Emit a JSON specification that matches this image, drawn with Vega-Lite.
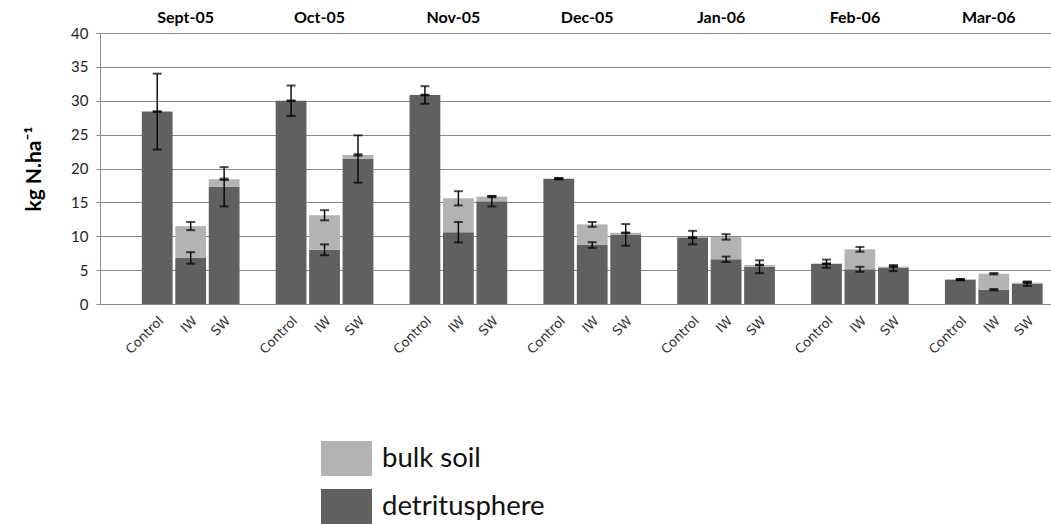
{
  "$schema": "https://vega.github.io/schema/vega-lite/v6.json",
  "width": 951,
  "height": 271,
  "autosize": {"type": "none"},
  "padding": {"left": 100, "top": 33, "right": 0, "bottom": 220},
  "data": {
    "values": [
      {"month": "Sept-05", "treatment": "Control", "bar": "Sept-05|Control", "fraction": "detritusphere", "value": 28.4, "err": 5.6},
      {"month": "Sept-05", "treatment": "Control", "bar": "Sept-05|Control", "fraction": "bulk soil", "value": 0, "err": 0.05},
      {"month": "Sept-05", "treatment": "IW", "bar": "Sept-05|IW", "fraction": "detritusphere", "value": 6.8, "err": 0.85},
      {"month": "Sept-05", "treatment": "IW", "bar": "Sept-05|IW", "fraction": "bulk soil", "value": 4.7, "err": 0.6},
      {"month": "Sept-05", "treatment": "SW", "bar": "Sept-05|SW", "fraction": "detritusphere", "value": 17.3, "err": 2.9},
      {"month": "Sept-05", "treatment": "SW", "bar": "Sept-05|SW", "fraction": "bulk soil", "value": 1.1, "err": 0.1},
      {"month": "Oct-05", "treatment": "Control", "bar": "Oct-05|Control", "fraction": "detritusphere", "value": 30.0, "err": 2.25},
      {"month": "Oct-05", "treatment": "Control", "bar": "Oct-05|Control", "fraction": "bulk soil", "value": 0, "err": 0.05},
      {"month": "Oct-05", "treatment": "IW", "bar": "Oct-05|IW", "fraction": "detritusphere", "value": 8.0, "err": 0.8},
      {"month": "Oct-05", "treatment": "IW", "bar": "Oct-05|IW", "fraction": "bulk soil", "value": 5.1, "err": 0.75},
      {"month": "Oct-05", "treatment": "SW", "bar": "Oct-05|SW", "fraction": "detritusphere", "value": 21.4, "err": 3.5},
      {"month": "Oct-05", "treatment": "SW", "bar": "Oct-05|SW", "fraction": "bulk soil", "value": 0.6, "err": 0.1},
      {"month": "Nov-05", "treatment": "Control", "bar": "Nov-05|Control", "fraction": "detritusphere", "value": 30.85, "err": 1.3},
      {"month": "Nov-05", "treatment": "Control", "bar": "Nov-05|Control", "fraction": "bulk soil", "value": 0, "err": 0.05},
      {"month": "Nov-05", "treatment": "IW", "bar": "Nov-05|IW", "fraction": "detritusphere", "value": 10.6, "err": 1.5},
      {"month": "Nov-05", "treatment": "IW", "bar": "Nov-05|IW", "fraction": "bulk soil", "value": 5.0, "err": 1.05},
      {"month": "Nov-05", "treatment": "SW", "bar": "Nov-05|SW", "fraction": "detritusphere", "value": 15.15, "err": 0.75},
      {"month": "Nov-05", "treatment": "SW", "bar": "Nov-05|SW", "fraction": "bulk soil", "value": 0.7, "err": 0.1},
      {"month": "Dec-05", "treatment": "Control", "bar": "Dec-05|Control", "fraction": "detritusphere", "value": 18.5, "err": 0.1},
      {"month": "Dec-05", "treatment": "Control", "bar": "Dec-05|Control", "fraction": "bulk soil", "value": 0, "err": 0.05},
      {"month": "Dec-05", "treatment": "IW", "bar": "Dec-05|IW", "fraction": "detritusphere", "value": 8.7, "err": 0.42},
      {"month": "Dec-05", "treatment": "IW", "bar": "Dec-05|IW", "fraction": "bulk soil", "value": 3.05, "err": 0.35},
      {"month": "Dec-05", "treatment": "SW", "bar": "Dec-05|SW", "fraction": "detritusphere", "value": 10.2, "err": 1.6},
      {"month": "Dec-05", "treatment": "SW", "bar": "Dec-05|SW", "fraction": "bulk soil", "value": 0.3, "err": 0.05},
      {"month": "Jan-06", "treatment": "Control", "bar": "Jan-06|Control", "fraction": "detritusphere", "value": 9.8, "err": 1.0},
      {"month": "Jan-06", "treatment": "Control", "bar": "Jan-06|Control", "fraction": "bulk soil", "value": 0, "err": 0.05},
      {"month": "Jan-06", "treatment": "IW", "bar": "Jan-06|IW", "fraction": "detritusphere", "value": 6.6, "err": 0.4},
      {"month": "Jan-06", "treatment": "IW", "bar": "Jan-06|IW", "fraction": "bulk soil", "value": 3.3, "err": 0.4},
      {"month": "Jan-06", "treatment": "SW", "bar": "Jan-06|SW", "fraction": "detritusphere", "value": 5.5, "err": 0.95},
      {"month": "Jan-06", "treatment": "SW", "bar": "Jan-06|SW", "fraction": "bulk soil", "value": 0.25, "err": 0.05},
      {"month": "Feb-06", "treatment": "Control", "bar": "Feb-06|Control", "fraction": "detritusphere", "value": 5.95, "err": 0.6},
      {"month": "Feb-06", "treatment": "Control", "bar": "Feb-06|Control", "fraction": "bulk soil", "value": 0, "err": 0.05},
      {"month": "Feb-06", "treatment": "IW", "bar": "Feb-06|IW", "fraction": "detritusphere", "value": 5.12, "err": 0.37},
      {"month": "Feb-06", "treatment": "IW", "bar": "Feb-06|IW", "fraction": "bulk soil", "value": 2.95, "err": 0.35},
      {"month": "Feb-06", "treatment": "SW", "bar": "Feb-06|SW", "fraction": "detritusphere", "value": 5.3, "err": 0.45},
      {"month": "Feb-06", "treatment": "SW", "bar": "Feb-06|SW", "fraction": "bulk soil", "value": 0.2, "err": 0.05},
      {"month": "Mar-06", "treatment": "Control", "bar": "Mar-06|Control", "fraction": "detritusphere", "value": 3.6, "err": 0.1},
      {"month": "Mar-06", "treatment": "Control", "bar": "Mar-06|Control", "fraction": "bulk soil", "value": 0, "err": 0.05},
      {"month": "Mar-06", "treatment": "IW", "bar": "Mar-06|IW", "fraction": "detritusphere", "value": 2.12, "err": 0.1},
      {"month": "Mar-06", "treatment": "IW", "bar": "Mar-06|IW", "fraction": "bulk soil", "value": 2.35, "err": 0.1},
      {"month": "Mar-06", "treatment": "SW", "bar": "Mar-06|SW", "fraction": "detritusphere", "value": 3.0, "err": 0.33},
      {"month": "Mar-06", "treatment": "SW", "bar": "Mar-06|SW", "fraction": "bulk soil", "value": 0.15, "err": 0.05}
    ]
  },
  "encoding": {
    "x": {
      "field": "bar",
      "type": "nominal",
      "sort": null,
      "scale": {
        "domain": ["gap0", "Sept-05|Control", "Sept-05|IW", "Sept-05|SW", "gap1",
                   "Oct-05|Control", "Oct-05|IW", "Oct-05|SW", "gap2",
                   "Nov-05|Control", "Nov-05|IW", "Nov-05|SW", "gap3",
                   "Dec-05|Control", "Dec-05|IW", "Dec-05|SW", "gap4",
                   "Jan-06|Control", "Jan-06|IW", "Jan-06|SW", "gap5",
                   "Feb-06|Control", "Feb-06|IW", "Feb-06|SW", "gap6",
                   "Mar-06|Control", "Mar-06|IW", "Mar-06|SW"],
        "paddingInner": 0.08,
        "paddingOuter": 0.25
      },
      "axis": {
        "title": null,
        "ticks": false,
        "labelExpr": "indexof(datum.value, '|') >= 0 ? split(datum.value, '|')[1] : ''",
        "labelAngle": -45,
        "labelFont": "DejaVu Sans",
        "labelFontSize": 13,
        "labelColor": "#333333",
        "labelPadding": 10,
        "domainColor": "#8a8a8a",
        "grid": false
      }
    }
  },
  "layer": [
    {
      "mark": {"type": "bar"},
      "encoding": {
        "y": {
          "field": "value",
          "type": "quantitative",
          "stack": "zero",
          "scale": {"domain": [0, 40]},
          "axis": {
            "values": [0, 5, 10, 15, 20, 25, 30, 35, 40],
            "tickCount": 9,
            "title": "kg N.ha⁻¹",
            "titleFont": "Lato",
            "titleFontSize": 21,
            "titleFontWeight": "bold",
            "titleColor": "#000000",
            "titlePadding": 26,
            "labelFont": "Lato",
            "labelFontSize": 15,
            "labelColor": "#222222",
            "labelPadding": 8,
            "tickSize": 4,
            "tickColor": "#8a8a8a",
            "domainColor": "#8a8a8a",
            "grid": true,
            "gridColor": "#8a8a8a"
          }
        },
        "color": {
          "field": "fraction",
          "type": "nominal",
          "scale": {"domain": ["bulk soil", "detritusphere"], "range": ["#b3b3b3", "#606060"]},
          "legend": {
            "title": null,
            "orient": "none",
            "legendX": 229,
            "legendY": 408,
            "symbolType": "M-1.457,-1H1.457V1H-1.457Z",
            "symbolSize": 1225,
            "symbolStrokeWidth": 0,
            "symbolOpacity": 1,
            "labelFont": "Lato",
            "labelFontSize": 27.5,
            "labelColor": "#111111",
            "labelOffset": 18,
            "labelLimit": 400,
            "rowPadding": 13
          }
        },
        "order": {"field": "fraction", "sort": "descending"}
      }
    },
    {
      "transform": [
        {"stack": "value", "groupby": ["bar"], "sort": [{"field": "fraction", "order": "descending"}], "as": ["s0", "s1"]},
        {"calculate": "datum.s1 - datum.err", "as": "lo"},
        {"calculate": "datum.s1 + datum.err", "as": "hi"}
      ],
      "layer": [
        {
          "mark": {"type": "rule", "color": "#000000", "strokeWidth": 1.4},
          "encoding": {
            "y": {"field": "lo", "type": "quantitative", "axis": {"values": [0, 5, 10, 15, 20, 25, 30, 35, 40], "tickCount": 9}},
            "y2": {"field": "hi"}
          }
        },
        {
          "mark": {"type": "tick", "color": "#000000", "thickness": 2, "size": 9},
          "encoding": {
            "y": {"field": "lo", "type": "quantitative", "axis": {"values": [0, 5, 10, 15, 20, 25, 30, 35, 40], "tickCount": 9}}
          }
        },
        {
          "mark": {"type": "tick", "color": "#000000", "thickness": 2, "size": 9},
          "encoding": {
            "y": {"field": "hi", "type": "quantitative", "axis": {"values": [0, 5, 10, 15, 20, 25, 30, 35, 40], "tickCount": 9}}
          }
        }
      ]
    },
    {
      "transform": [{"filter": "datum.treatment == 'IW' && datum.fraction == 'detritusphere'"}],
      "mark": {"type": "text", "font": "Lato", "fontSize": 16, "fontWeight": "bold", "color": "#000000", "baseline": "middle", "align": "center", "dy": -15, "dx": -5},
      "encoding": {
        "y": {"datum": 40, "type": "quantitative", "axis": {"values": [0, 5, 10, 15, 20, 25, 30, 35, 40], "tickCount": 9}},
        "text": {"field": "month"}
      }
    }
  ],
  "config": {"view": {"stroke": null}}
}
